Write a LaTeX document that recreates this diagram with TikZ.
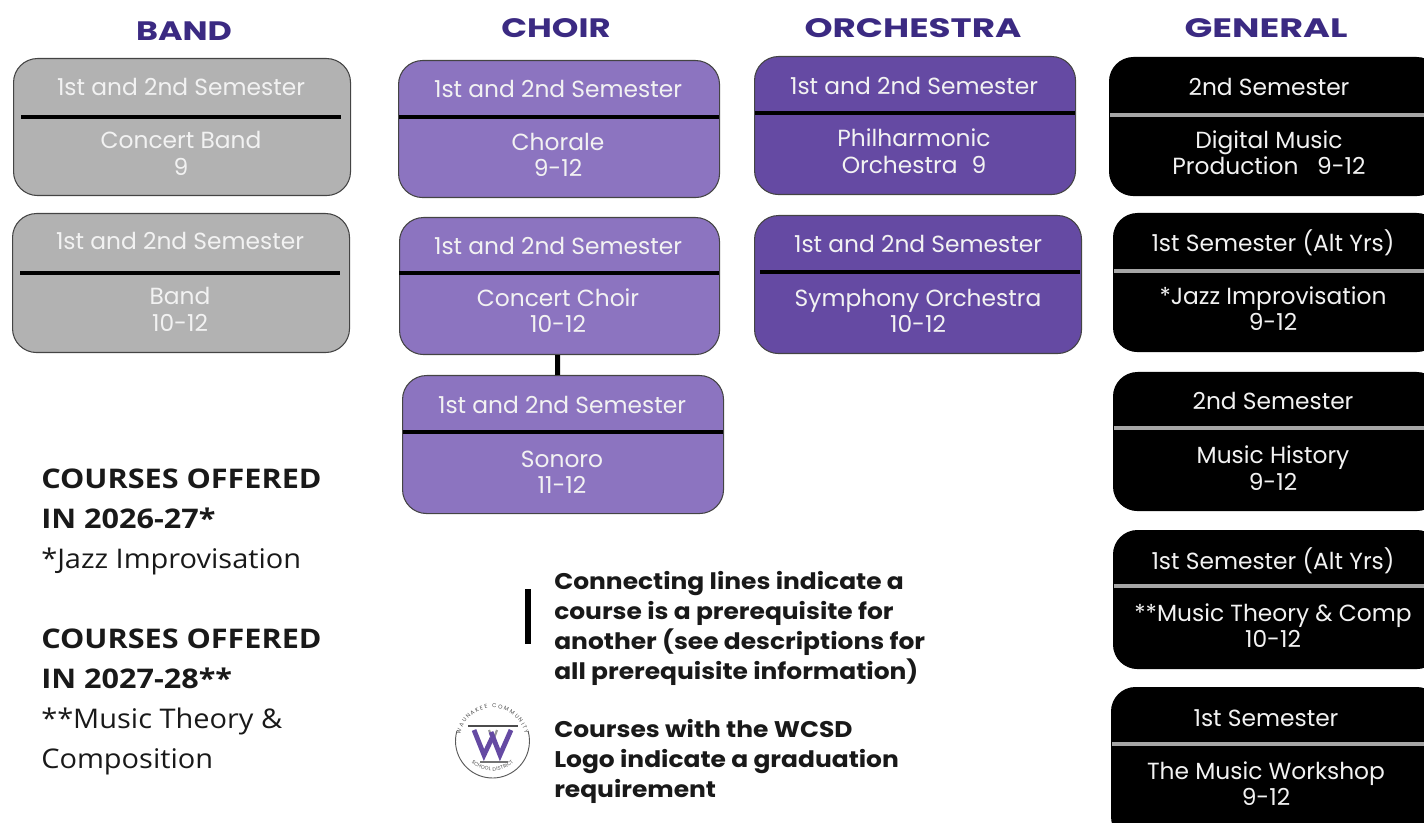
\documentclass[tikz,border=0pt]{standalone}
\usepackage{fontspec}
\usetikzlibrary{calc,decorations.text}
\setmainfont{Poppins}
\newfontfamily\sidef[FakeStretch=1.07]{Open Sans}
\newfontfamily\sideb[FakeStretch=1.13]{Open Sans Bold}
\newfontfamily\legf[FakeStretch=1.1]{Poppins}
\definecolor{headc}{HTML}{3B2A82}
\definecolor{bandc}{HTML}{B2B2B2}
\definecolor{choirc}{HTML}{8C74C0}
\definecolor{orchc}{HTML}{654AA3}
\definecolor{genc}{HTML}{000000}
\definecolor{greyline}{HTML}{A6A6A6}
\definecolor{edgec}{HTML}{444444}
\definecolor{semc}{HTML}{F2F2F2}
\tikzset{
  cbox/.style={draw=edgec,line width=0.8pt,rounded corners=18pt,inner sep=0pt,anchor=north west},
  bandbox/.style={cbox,fill=bandc},
  choirbox/.style={cbox,fill=choirc},
  orchbox/.style={cbox,fill=orchc},
  genbox/.style={cbox,fill=genc,draw=black},
  blackrule/.style={line width=3pt,draw=black},
  greyrule/.style={line width=3pt,draw=greyline},
  boxtext/.style={text=semc,font=\fontsize{17.5}{20}\selectfont,inner sep=0pt,anchor=base},
  coltitle/.style={text=headc,font=\fontsize{20}{22}\selectfont\bfseries,inner sep=0pt},
  legendtext/.style={text=black!90,font=\legf\fontsize{17}{22.5}\selectfont\bfseries,inner sep=0pt,anchor=north west,align=left},
  sidetext/.style={text=black!90,font=\sidef\fontsize{20.3}{30}\selectfont,inner sep=0pt,anchor=north west,align=left},
  prereq/.style={line width=3.8pt,draw=black},
}
% name, x1, y1, x2, y2, style
\newcommand{\course}[6]{\node[#6,minimum width=#4*0.75pt-#2*0.75pt,minimum height=#5*0.75pt-#3*0.75pt] (#1) at (#2,#3) {};}
\newcommand{\rulein}[5]{\draw[#2] (#3,#5) -- (#4,#5);}
\newcommand{\lab}[4]{\node[boxtext] (#1) at (#2,#3+9) {#4};}
\begin{document}
\begin{tikzpicture}[x=0.75pt,y=-0.75pt]
\useasboundingbox (0,0) rectangle (1424,823);
\begin{scope}
\clip (0,0) rectangle (1424,823);
\node[coltitle] (tband) at (184,31) {\scalebox{1.25}[1]{BAND}};
\node[coltitle] (tchoir) at (556,28) {\scalebox{1.27}[1]{CHOIR}};
\node[coltitle] (torch) at (913,28) {\scalebox{1.34}[1]{ORCHESTRA}};
\node[coltitle] (tgen) at (1266,28) {\scalebox{1.37}[1]{GENERAL}};
% Band
\course{b1}{13}{58}{350}{195}{bandbox}
\rulein{b1}{blackrule}{21}{341}{117}
\lab{b1a}{181}{87}{1st and 2nd Semester}
\lab{b1b}{181}{140}{Concert Band}
\lab{b1c}{181}{167}{9}
\course{b2}{12}{213}{349}{352}{bandbox}
\rulein{b2}{blackrule}{20}{340}{273}
\lab{b2a}{180}{241}{1st and 2nd Semester}
\lab{b2b}{180}{296}{Band}
\lab{b2c}{180}{323}{10-12}
% Choir
\course{c1}{398}{60}{719}{197}{choirbox}
\rulein{c1}{blackrule}{399}{719}{117}
\lab{c1a}{558}{89}{1st and 2nd Semester}
\lab{c1b}{558}{142}{Chorale}
\lab{c1c}{558}{168}{9-12}
\course{c2}{399}{217}{719}{354}{choirbox}
\rulein{c2}{blackrule}{399}{719}{273}
\lab{c2a}{558}{246}{1st and 2nd Semester}
\lab{c2b}{558}{298}{Concert Choir}
\lab{c2c}{558}{324}{10-12}
\course{c3}{402}{375}{723}{513}{choirbox}
\rulein{c3}{blackrule}{403}{723}{432}
\lab{c3a}{562}{404}{1st and 2nd Semester}
\lab{c3b}{562}{458}{Sonoro}
\lab{c3c}{562}{484}{11-12}
\draw[prereq] ([xshift=-1.5pt]c2.south) -- ([xshift=-4.1pt]c3.north);
% Orchestra
\course{o1}{754}{56}{1075}{194}{orchbox}
\rulein{o1}{blackrule}{755}{1075}{113}
\lab{o1a}{914}{86}{1st and 2nd Semester}
\lab{o1b}{914}{138}{Philharmonic}
\lab{o1c}{914}{165}{Orchestra\hspace{0.6em}9}
\course{o2}{754}{215}{1081}{353}{orchbox}
\rulein{o2}{blackrule}{760}{1080}{272}
\lab{o2a}{918}{244}{1st and 2nd Semester}
\lab{o2b}{918}{298}{Symphony Orchestra}
\lab{o2c}{918}{324}{10-12}
% General
\course{g1}{1109}{57}{1440}{195}{genbox}
\rulein{g1}{greyrule}{1110}{1424}{115}
\lab{g1a}{1269}{87}{2nd Semester}
\lab{g1b}{1269}{140}{Digital Music}
\lab{g1c}{1269}{166}{Production\hspace{0.8em}9-12}
\course{g2}{1113}{213}{1440}{351}{genbox}
\rulein{g2}{greyrule}{1114}{1424}{271}
\lab{g2a}{1273}{243}{1st Semester (Alt Yrs)}
\lab{g2b}{1273}{296}{*Jazz Improvisation}
\lab{g2c}{1273}{322}{9-12}
\course{g3}{1113}{372}{1440}{510}{genbox}
\rulein{g3}{greyrule}{1114}{1424}{428}
\lab{g3a}{1273}{401}{2nd Semester}
\lab{g3b}{1273}{454}{Music History}
\lab{g3c}{1273}{481}{9-12}
\course{g4}{1113}{530}{1440}{668}{genbox}
\rulein{g4}{greyrule}{1114}{1424}{586}
\lab{g4a}{1273}{560}{1st Semester (Alt Yrs)}
\lab{g4b}{1273}{612}{**Music Theory \& Comp}
\lab{g4c}{1273}{638}{10-12}
\course{g5}{1111}{687}{1440}{840}{genbox}
\rulein{g5}{greyrule}{1112}{1424}{744}
\lab{g5a}{1266}{717}{1st Semester}
\lab{g5b}{1266}{770}{The Music Workshop}
\lab{g5c}{1266}{796}{9-12}
% Side text
\node[sidetext] (s1) at (41,469) {{\sideb COURSES OFFERED}\\{\sideb IN 2026-27*}\\*Jazz Improvisation};
\node[sidetext] (s2) at (41,629) {{\sideb COURSES OFFERED}\\{\sideb IN 2027-28**}\\**Music Theory \&\\Composition};
% Legend
\coordinate (lega) at (528,589);
\coordinate (legb) at (528,644);
\draw[line width=5pt,draw=black] (lega) -- (legb);
\node[legendtext] (l1) at (554,571) {Connecting lines indicate a\\course is a prerequisite for\\another (see descriptions for\\all prerequisite information)};
\node[legendtext] (l2) at (554,719) {Courses with the WCSD\\Logo indicate a graduation\\requirement};
% Logo
\coordinate (logo) at (492.5,741);
\draw[line width=0.7pt,draw=black!65] (logo) ++(196:37) arc[start angle=196,end angle=-16,radius=37];
\path[decorate,decoration={text along path,text align={fit to path},
  text={|\fontsize{4.2}{5}\selectfont\color{black!70}|WAUNAKEE COMMUNITY}}]
  (logo) ++(192:33) arc[start angle=192,end angle=348,radius=33];
\path[decorate,decoration={text along path,text align={fit to path},
  text={|\fontsize{3.8}{5}\selectfont\color{black!70}|SCHOOL DISTRICT}}]
  (logo) ++(135:30) arc[start angle=135,end angle=45,radius=30];
\draw[line width=2.2pt,draw=black!70] (468,726) -- (518,726);
\draw[line width=2.2pt,draw=black!55] (480,762) -- (508,762);
\draw[line width=1.6pt,draw=black!40] (489,730) -- (493,741) -- (497,730);
\draw[line width=3.6pt,draw=orchc,line join=miter] (474,730) -- (484,755) -- (492,738) ;
\draw[line width=3.6pt,draw=orchc,line join=miter] (491,732) -- (500,755) -- (511,730);
\end{scope}
\end{tikzpicture}
\end{document}
